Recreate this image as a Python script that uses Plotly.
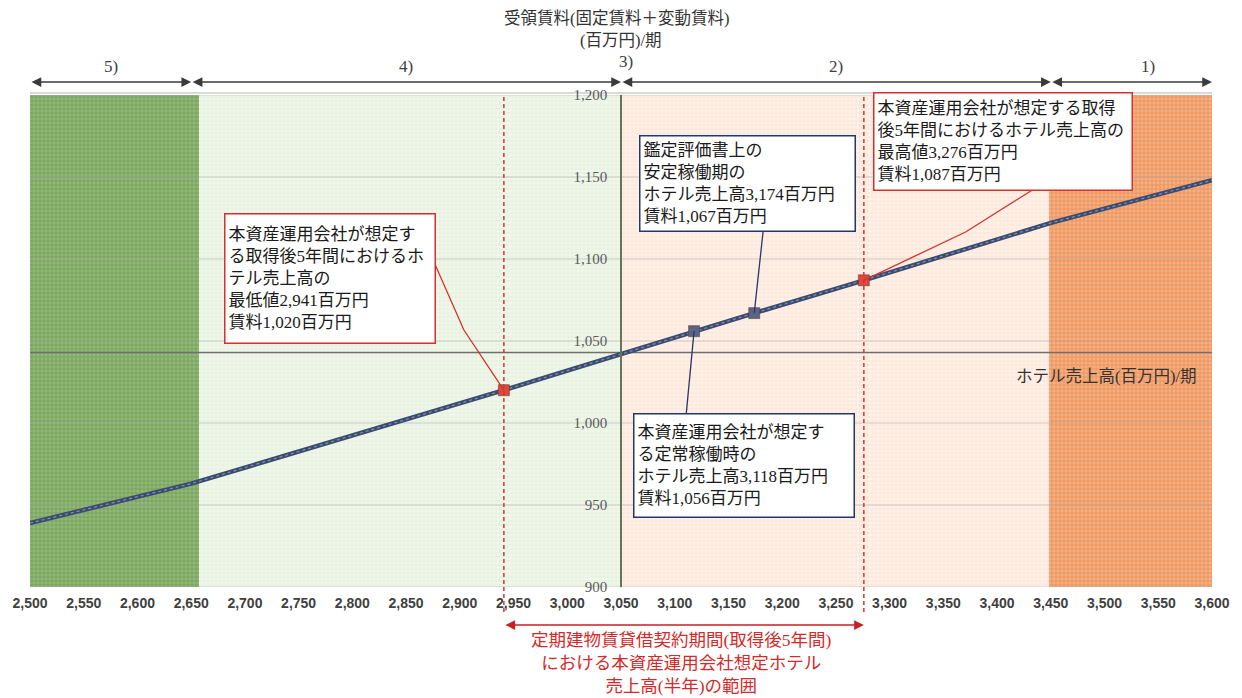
import plotly.graph_objects as go

# ---- data -------------------------------------------------------------
# hotel sales (million yen / period) vs. rent received (million yen / period)
line_sales = [2500, 2650, 2941, 3118, 3174, 3276, 3450, 3600]
line_rent = [939, 963, 1020, 1056, 1067, 1087, 1122, 1148]

# highlighted cases
key_sales = [2941, 3118, 3174, 3276]
key_rent = [1020, 1056, 1067, 1087]
key_colors = ["#e2463a", "#5c6482", "#5c6482", "#e2463a"]

# shaded rent-scheme bands
band_edges = [2500, 2657, 3050, 3448, 3600]
band_bg = ["#93b978", "#f1f7eb", "#fff2ea", "#f5b083"]
band_fg = ["#4c7f30", "#d6e7c8", "#fbd2bb", "#e2671e"]

# band arrows along the top
arrow_edges = [2500, 2650, 3050, 3450, 3600]
band_labels = ["5)", "4)", "2)", "1)"]
band_label_x = [2575, 2850, 3250, 3540]

x_ticks = list(range(2500, 3601, 50))
y_ticks = list(range(900, 1201, 50))
axis_cross_x = 3050
axis_cross_y = 1043

# ---- layout geometry (pixels) ----------------------------------------
W, H = 1242, 698
L, R, T, B = 27, 30, 95, 111
PW, PH = W - L - R, H - T - B
X0, X1, Y0, Y1 = 2500, 3600, 900, 1200


def px_x(px):
    return X0 + (px - L) * (X1 - X0) / PW


def px_y(py):
    return Y1 - (py - T) * (Y1 - Y0) / PH


def paper_x(px):
    return (px - L) / PW


def paper_y(py):
    return (H - B - py) / PH


JP = "Liberation Serif, Noto Sans CJK JP"
RED = "#d42a2a"
NAVY = "#22386a"

fig = go.Figure()

# bands as patterned bars
for i in range(4):
    a, b = band_edges[i], band_edges[i + 1]
    fig.add_trace(go.Bar(
        x=[(a + b) / 2], y=[Y1 - Y0], base=[Y0], width=[b - a],
        marker=dict(color=band_bg[i], line=dict(width=0),
                    pattern=dict(shape="+", size=4, solidity=0.35,
                                 fgcolor=band_fg[i], bgcolor=band_bg[i])),
        hoverinfo="skip", showlegend=False))

# horizontal gridlines
gx, gy = [], []
for v in y_ticks:
    gx += [X0, X1, None]
    gy += [v, v, None]
fig.add_trace(go.Scatter(x=gx, y=gy, mode="lines",
                         line=dict(color="rgba(170,170,170,0.55)", width=1),
                         hoverinfo="skip", showlegend=False))

# horizontal axis crossing line
fig.add_trace(go.Scatter(x=[X0, X1], y=[axis_cross_y, axis_cross_y], mode="lines",
                         line=dict(color="#6f6f6f", width=1.5),
                         hoverinfo="skip", showlegend=False))

# rent line
fig.add_trace(go.Scatter(x=line_sales, y=line_rent, mode="lines",
                         line=dict(color="#3a4c72", width=4.5),
                         hoverinfo="skip", showlegend=False))
fig.add_trace(go.Scatter(x=line_sales, y=line_rent, mode="lines",
                         line=dict(color="#8590aa", width=1.2, dash="dot"),
                         hoverinfo="skip", showlegend=False))

# highlighted points
fig.add_trace(go.Scatter(x=key_sales, y=key_rent, mode="markers",
                         marker=dict(symbol="square", size=11, color=key_colors,
                                     line=dict(color="rgba(60,60,60,0.5)", width=1)),
                         hoverinfo="skip", showlegend=False))

shapes = []
# red dashed range lines
for xv in (key_sales[0], key_sales[3]):
    shapes.append(dict(type="line", xref="x", yref="paper", x0=xv, x1=xv,
                       y0=paper_y(612), y1=1, layer="above",
                       line=dict(color="#e0302a", width=1.5, dash="4px,3px")))

# light frame line along the top of the plot
shapes.append(dict(type="line", xref="paper", yref="paper", x0=0, x1=1,
                   y0=paper_y(93), y1=paper_y(93), layer="below",
                   line=dict(color="#d9d9d9", width=2)))


# callout connectors
def connector(points_px, end_xy, color):
    pts = [(px_x(px), px_y(py)) for px, py in points_px] + [end_xy]
    path = "M " + " L ".join(f"{x:.3f},{y:.3f}" for x, y in pts)
    return dict(type="path", xref="x", yref="y", path=path, layer="above",
                line=dict(color=color, width=1.3))


shapes.append(connector([(432, 262), (462, 330)], (key_sales[0], key_rent[0]), "#d43030"))
shapes.append(connector([(685, 413)], (key_sales[1], key_rent[1]), NAVY))
shapes.append(connector([(762, 231)], (key_sales[2], key_rent[2]), NAVY))
shapes.append(connector([(1032, 190), (965, 232)], (key_sales[3], key_rent[3]), "#d43030"))

annotations = []


def label(px, py, text, size, color, xanchor="center", family=JP, align="center"):
    return dict(xref="paper", yref="paper", x=paper_x(px), y=paper_y(py),
                xanchor=xanchor, yanchor="middle", text=text, showarrow=False,
                align=align, font=dict(family=family, size=size, color=color))


# callout boxes
boxes = [
    ((221, 213, 432, 343), "#d43030",
     ["本資産運用会社が想定す", "る取得後5年間におけるホ", "テル売上高の",
      "最低値2,941百万円", "賃料1,020百万円"]),
    ((638, 135, 854, 231), NAVY,
     ["鑑定評価書上の", "安定稼働期の", "ホテル売上高3,174百万円", "賃料1,067百万円"]),
    ((632, 413, 853, 517), NAVY,
     ["本資産運用会社が想定す", "る定常稼働時の", "ホテル売上高3,118百万円", "賃料1,056百万円"]),
    ((872, 92, 1131, 190), "#d43030",
     ["本資産運用会社が想定する取得", "後5年間におけるホテル売上高の",
      "最高値3,276百万円", "賃料1,087百万円"]),
]
for (bx0, by0, bx1, by1), col, lines in boxes:
    pad = 3
    annotations.append(dict(
        xref="paper", yref="paper", x=paper_x(bx0), y=paper_y(by0),
        xanchor="left", yanchor="top", showarrow=False,
        text="<br>".join(lines), align="left", valign="middle",
        width=bx1 - bx0 - 2 * pad - 2, height=by1 - by0 - 2 * pad - 2,
        bgcolor="white", bordercolor=col, borderwidth=1.5, borderpad=pad,
        font=dict(family=JP, size=17, color="#1a1a1a")))

# band arrows
for i in range(4):
    annotations.append(dict(
        xref="x", yref="paper", x=arrow_edges[i + 1], y=paper_y(82),
        axref="x", ax=arrow_edges[i], ay=0, text="", showarrow=True,
        arrowside="end+start", arrowhead=2, arrowsize=1.3, arrowwidth=1.5,
        arrowcolor="#3a3a3a", standoff=0, startstandoff=0))
for lab, xv in zip(band_labels, band_label_x):
    annotations.append(dict(xref="x", yref="paper", x=xv, y=paper_y(66),
                            xanchor="center", yanchor="middle",
                            text=lab, showarrow=False,
                            font=dict(family=JP, size=17, color="#404040")))
annotations.append(dict(xref="x", yref="paper", x=3055, y=paper_y(62),
                        xanchor="center", yanchor="middle",
                        text="3)", showarrow=False,
                        font=dict(family=JP, size=17, color="#404040")))

# axis titles
annotations.append(label(615, 18, "受領賃料(固定賃料＋変動賃料)", 16.5, "#333333"))
annotations.append(label(620, 41, "(百万円)/期", 16.5, "#333333"))
annotations.append(label(1199, 376, "ホテル売上高(百万円)/期", 16.5, "#333333",
                         xanchor="right"))

# lease-period range
annotations.append(dict(
    xref="x", yref="paper", x=key_sales[3], y=paper_y(625),
    axref="x", ax=key_sales[0], ay=0, text="", showarrow=True,
    arrowside="end+start", arrowhead=2, arrowsize=1.3, arrowwidth=1.5,
    arrowcolor="#c82020", standoff=0, startstandoff=0))
annotations.append(label(
    680, 663,
    "定期建物賃貸借契約期間(取得後5年間)<br>における本資産運用会社想定ホテル<br>売上高(半年)の範囲",
    17.5, RED))

fig.update_layout(
    width=W, height=H,
    margin=dict(l=L, r=R, t=T, b=B, pad=0),
    paper_bgcolor="white", plot_bgcolor="white",
    barmode="overlay", bargap=0, showlegend=False, hovermode=False,
    shapes=shapes, annotations=annotations,
    xaxis=dict(range=[X0, X1], tickvals=x_ticks, tickformat=",",
               showgrid=False, zeroline=False, showline=False, ticks="",
               ticklabelstandoff=6,
               tickfont=dict(family="Liberation Sans", size=14, color="#404040",
                             weight="bold")),
    yaxis=dict(range=[Y0, Y1], tickvals=y_ticks, tickformat=",",
               anchor="free", position=(axis_cross_x - X0) / (X1 - X0),
               showgrid=False, zeroline=False, showline=True,
               linecolor="#66755a", linewidth=1.5, ticks="",
               ticklabelstandoff=10,
               tickfont=dict(family="Liberation Serif", size=15, color="#5a5a5a")),
)

fig.write_html("out.html")
